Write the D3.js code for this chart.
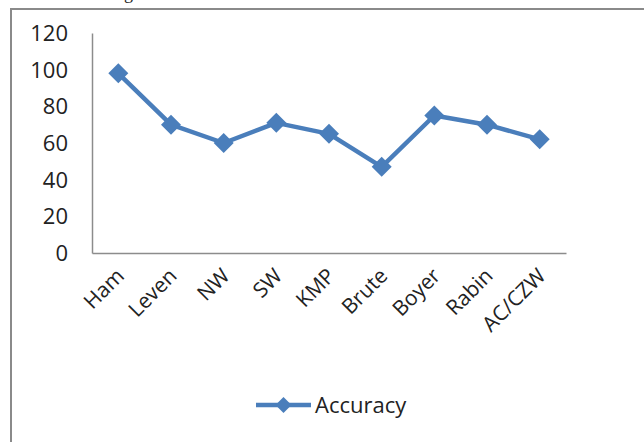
<!DOCTYPE html>
<html>
<head>
<meta charset="utf-8">
<script src="https://cdn.jsdelivr.net/npm/d3@7"></script>
<style>
  body { margin: 0; background: #fff; }
  text { font-family: "Open Sans", sans-serif; fill: #222; }
</style>
</head>
<body>
<div id="chart"></div>
<script>
// data
var categories = ["Ham", "Leven", "NW", "SW", "KMP", "Brute", "Boyer", "Rabin", "AC/CZW"];
var accuracy = [98, 70, 60, 71, 65, 47, 75, 70, 62];
var yTicks = [0, 20, 40, 60, 80, 100, 120];
var seriesName = "Accuracy";

var W = 644, H = 442;
var margin = {top: 33, left: 92, right: 78, bottom: 189};
var width = W - margin.left - margin.right,
    height = H - margin.top - margin.bottom;
var blue = "#4a7ebb";

var svg = d3.select("#chart")
    .append("svg")
    .attr("width", W)
    .attr("height", H);

// caption above the frame, mostly outside the picture
svg.append("text")
    .attr("x", 124)
    .attr("y", -1)
    .style("font-family", "Liberation Serif, serif")
    .style("font-size", "18px")
    .text("g");

// outer frame (right and bottom edges fall outside)
svg.append("path")
    .attr("d", "M11," + (H + 5) + "V9H" + (W + 5))
    .attr("fill", "none")
    .attr("stroke", "#8a8a8a")
    .attr("stroke-width", 2);

var g = svg.append("g")
    .attr("transform", "translate(" + margin.left + "," + margin.top + ")");

var x = d3.scaleBand()
    .domain(categories)
    .range([0, width]);

var y = d3.scaleLinear()
    .domain([0, 120])
    .range([height, 0]);

// Y axis
var yAxis = g.append("g")
    .call(d3.axisLeft(y).tickValues(yTicks).tickSize(0).tickPadding(24));
yAxis.select(".domain").attr("stroke", "#8c8c8c").attr("stroke-width", 1.5);
yAxis.selectAll("text")
    .style("font-size", "22px")
    .attr("dy", "0.34em");

// X axis
var xAxis = g.append("g")
    .attr("transform", "translate(0," + height + ")")
    .call(d3.axisBottom(x).tickSize(0).tickPadding(0));
xAxis.select(".domain").attr("stroke", "#8c8c8c").attr("stroke-width", 1.5);
xAxis.selectAll("text")
    .style("font-size", "21px")
    .attr("text-anchor", "end")
    .attr("dy", "0.35em")
    .attr("transform", "translate(2,19) rotate(-45)");

// line
var line = d3.line()
    .x(function (d, i) { return x(categories[i]) + x.bandwidth() / 2; })
    .y(function (d) { return y(d); });

g.append("path")
    .datum(accuracy)
    .attr("d", line)
    .attr("fill", "none")
    .attr("stroke", blue)
    .attr("stroke-width", 4.5)
    .attr("stroke-linejoin", "round");

var diamond = "M0,-10L10,0L0,10L-10,0Z";

g.selectAll(".pt")
    .data(accuracy)
    .enter()
    .append("path")
    .attr("class", "pt")
    .attr("d", diamond)
    .attr("fill", blue)
    .attr("transform", function (d, i) {
        return "translate(" + (x(categories[i]) + x.bandwidth() / 2) + "," + y(d) + ")";
    });

// legend
var leg = svg.append("g").attr("transform", "translate(256,405)");
leg.append("line")
    .attr("x1", 0).attr("x2", 55)
    .attr("stroke", blue)
    .attr("stroke-width", 4.5);
leg.append("path")
    .attr("d", "M0,-8L8,0L0,8L-8,0Z")
    .attr("transform", "translate(27.5,0)")
    .attr("fill", blue);
leg.append("text")
    .attr("x", 59)
    .attr("y", 8)
    .style("font-size", "22px")
    .text(seriesName);
</script>
</body>
</html>
